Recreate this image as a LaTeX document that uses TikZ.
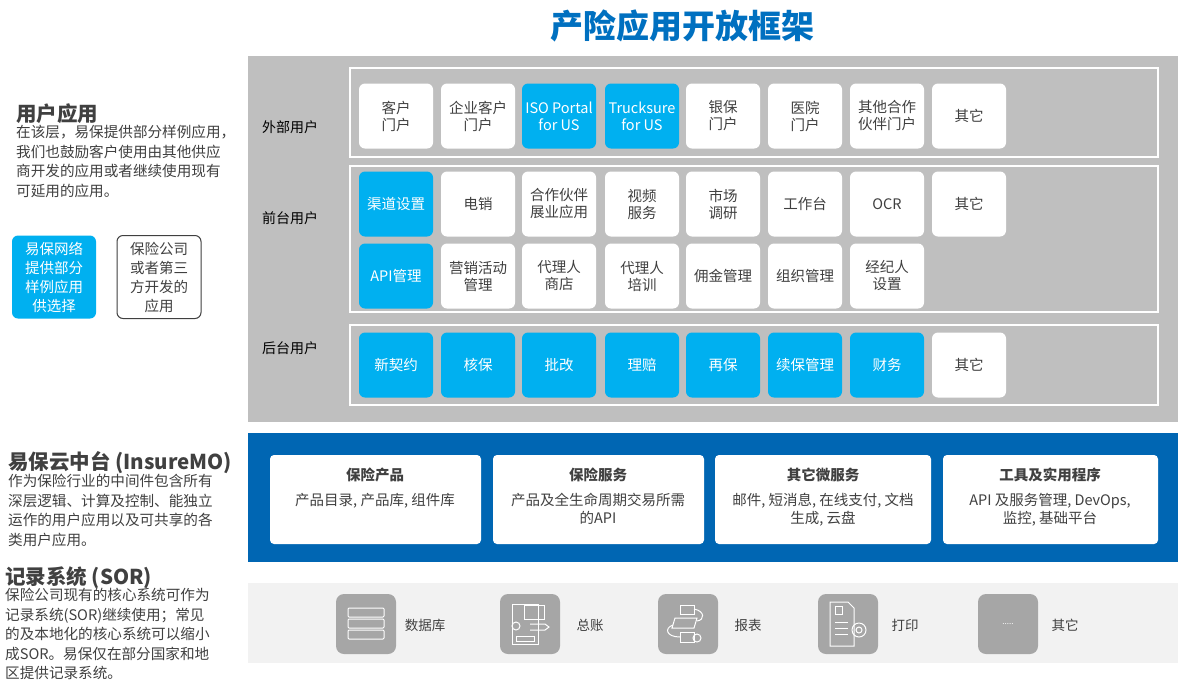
\documentclass[tikz,border=0pt]{standalone}
\usepackage{fontspec}
\setmainfont{Noto Sans CJK SC}
\usetikzlibrary{positioning}
\definecolor{cblue}{HTML}{00B0F0}
\definecolor{dblue}{HTML}{0066B3}
\definecolor{tblue}{HTML}{0070C0}
\definecolor{pgray}{HTML}{BFBFBF}
\definecolor{lgray}{HTML}{F2F2F2}
\definecolor{igray}{HTML}{A6A6A6}
\definecolor{txt}{HTML}{404040}
\tikzset{
 base/.style={rounded corners=6pt,minimum width=74pt,minimum height=65pt,align=center,font=\fontsize{14.5}{17}\selectfont,inner sep=1pt},
 wbox/.style={base,fill=white,text=txt},
 bbox/.style={base,fill=cblue,text=white},
 grp/.style={draw=white,line width=1.5pt},
 lab/.style={font=\fontsize{14}{16}\selectfont,text=black},
 svc/.style={fill=white,rounded corners=4pt},
 ico/.style={fill=igray,rounded corners=8pt,minimum width=60pt,minimum height=60pt,inner sep=0pt},
 ilab/.style={font=\fontsize{13.5}{15}\selectfont,text=txt},
 para/.style={anchor=north west,align=left,text=txt,font=\fontsize{14.6}{19.5}\selectfont,inner sep=0pt},
 head/.style={anchor=north west,text=txt,font=\bfseries\fontsize{20.5}{22}\selectfont,inner sep=0pt},
 iw/.style={draw=white,line width=1pt},
 st/.style={text=txt,font=\bfseries\fontsize{14.5}{16}\selectfont},
 sb/.style={text=txt,font=\fontsize{14.5}{18}\selectfont,align=center,anchor=north}
}
\begin{document}
\begin{tikzpicture}[x=1pt,y=-1pt]
\useasboundingbox[fill=white] (0,0) rectangle (1185,686);
\node[text=tblue,font=\bfseries\fontsize{33}{36}\selectfont] (title) at (682,26) {产险应用开放框架};
% gray panel
\fill[pgray] (248,56) rectangle (1178,422);
\draw[grp] (350,68) rectangle (1158,157);
\draw[grp] (350,166) rectangle (1158,312);
\draw[grp] (350,325) rectangle (1158,405);
\node[lab] (l1) at (290,127) {外部用户};
\node[lab] (l2) at (290,218) {前台用户};
\node[lab] (l3) at (290,348) {后台用户};
% row 1
\node[wbox] (a1) at (396,116) {客户\\门户};
\node[wbox] (a2) at (478,116) {企业客户\\门户};
\node[bbox] (a3) at (559,116) {ISO Portal\\for US};
\node[bbox] (a4) at (642,116) {Trucksure\\for US};
\node[wbox] (a5) at (723,116) {银保\\门户};
\node[wbox] (a6) at (805,116) {医院\\门户};
\node[wbox] (a7) at (887,116) {其他合作\\伙伴门户};
\node[wbox] (a8) at (969,116) {其它};
% row 2
\node[bbox] (b1) at (396,204) {渠道设置};
\node[wbox] (b2) at (478,204) {电销};
\node[wbox] (b3) at (559,204) {合作伙伴\\展业应用};
\node[wbox] (b4) at (642,204) {视频\\服务};
\node[wbox] (b5) at (723,204) {市场\\调研};
\node[wbox] (b6) at (805,204) {工作台};
\node[wbox] (b7) at (887,204) {OCR};
\node[wbox] (b8) at (969,204) {其它};
\node[bbox] (c1) at (396,276) {API管理};
\node[wbox] (c2) at (478,276) {营销活动\\管理};
\node[wbox] (c3) at (559,276) {代理人\\商店};
\node[wbox] (c4) at (642,276) {代理人\\培训};
\node[wbox] (c5) at (723,276) {佣金管理};
\node[wbox] (c6) at (805,276) {组织管理};
\node[wbox] (c7) at (887,276) {经纪人\\设置};
% row 3
\node[bbox] (d1) at (396,365) {新契约};
\node[bbox] (d2) at (478,365) {核保};
\node[bbox] (d3) at (559,365) {批改};
\node[bbox] (d4) at (642,365) {理赔};
\node[bbox] (d5) at (723,365) {再保};
\node[bbox] (d6) at (805,365) {续保管理};
\node[bbox] (d7) at (887,365) {财务};
\node[wbox] (d8) at (969,365) {其它};
% blue band
\fill[dblue] (248,433) rectangle (1178,562);
\fill[svc] (270,455) rectangle (481,544);
\fill[svc] (493,455) rectangle (704,544);
\fill[svc] (715,455) rectangle (931,544);
\fill[svc] (943,455) rectangle (1158,544);
\node[st] (s1) at (375,475) {保险产品};
\node[sb] (s1t) at (375,490) {产品目录, 产品库, 组件库};
\node[st] (s2) at (598,475) {保险服务};
\node[sb] (s2t) at (598,490) {产品及全生命周期交易所需\\的API};
\node[st] (s3) at (823,475) {其它微服务};
\node[sb] (s3t) at (823,490) {邮件, 短消息, 在线支付, 文档\\生成, 云盘};
\node[st] (s4) at (1050,475) {工具及实用程序};
\node[sb] (s4t) at (1050,490) {API 及服务管理, DevOps,\\监控, 基础平台};
% bottom
\fill[lgray] (248,583) rectangle (1178,663);
\node[ico] (i1) at (366,624) {};
\node[ico] (i2) at (530,624) {};
\node[ico] (i3) at (688,624) {};
\node[ico] (i4) at (848,624) {};
\node[ico,text=white,font=\fontsize{8}{8}\selectfont] (i5) at (1008,624) {.....};
\node[ilab] (t1) at (425,625) {数据库};
\node[ilab] (t2) at (590,625) {总账};
\node[ilab] (t3) at (748,625) {报表};
\node[ilab] (t4) at (905,625) {打印};
\node[ilab] (t5) at (1065,625) {其它};
% icon glyphs
\foreach \yy in {608,619,630}{\draw[iw,rounded corners=1pt] (348,\yy) rectangle (384,\yy+9);}
\draw[iw] (512,604) rectangle (538,644); \draw[iw] (524,605) rectangle (544,619); \draw[iw] (516,626) circle (4); \draw[iw] (516,636) rectangle (534,641); \draw[iw] (530,624)--(545,624)--(549,627)--(545,630)--(530,630);
\draw[iw] (680,605) rectangle (694,614); \draw[iw] (675,618)--(697,618)--(694,628)--(672,628)--cycle; \draw[iw] (680,632) rectangle (694,642); \draw[iw] (697,638) circle (4); \draw[iw] (694,609) .. controls (705,611) and (705,620) .. (697,621); \draw[iw] (673,625) .. controls (664,628) and (666,637) .. (680,637);
\draw[iw] (830,602)--(848,602)--(854,608)--(854,646)--(830,646)--cycle; \draw[iw] (835,606) rectangle (842,614); \foreach \yy in {622,628,634}{\draw[iw] (835,\yy)--(848,\yy);} \draw[iw] (859,630) circle (7); \draw[iw] (859,630) circle (3);
% left texts
\node[head] (h1) at (16,103) {用户应用};
\node[para] (p1) at (16,125) {在该层，易保提供部分样例应用，\\我们也鼓励客户使用由其他供应\\商开发的应用或者继续使用现有\\可延用的应用。};
\node[bbox,minimum width=84pt,minimum height=83pt,font=\fontsize{14.5}{19}\selectfont] (lb1) at (54,277) {易保网络\\提供部分\\样例应用\\供选择};
\node[wbox,draw=txt,line width=1pt,minimum width=84pt,minimum height=83pt,font=\fontsize{14.5}{19}\selectfont] (lb2) at (159,277) {保险公司\\或者第三\\方开发的\\应用};
\node[head] (h2) at (8,451) {易保云中台 (InsureMO)};
\node[para] (p2) at (8,474) {作为保险行业的中间件包含所有\\深层逻辑、计算及控制、能独立\\运作的用户应用以及可共享的各\\类用户应用。};
\node[head] (h3) at (5,566) {记录系统 (SOR)};
\node[para] (p3) at (5,588) {保险公司现有的核心系统可作为\\记录系统(SOR)继续使用；常见\\的及本地化的核心系统可以缩小\\成SOR。易保仅在部分国家和地\\区提供记录系统。};
\end{tikzpicture}
\end{document}
